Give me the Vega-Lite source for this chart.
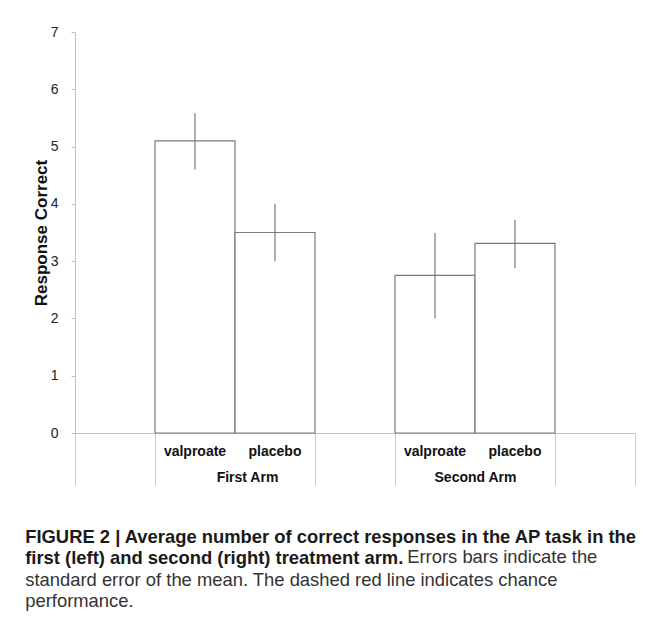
{
  "$schema": "https://vega.github.io/schema/vega-lite/v6.json",
  "background": "white",
  "padding": {"left": 25, "top": 25, "right": 0, "bottom": 0},
  "config": {
    "font": "Liberation Sans",
    "view": {"stroke": null},
    "concat": {"spacing": 0}
  },
  "title": {
    "text": ["standard error of the mean. The dashed red line indicates chance", "performance."],
    "orient": "bottom",
    "anchor": "start",
    "frame": "bounds",
    "font": "Liberation Sans",
    "fontSize": 18.4,
    "fontWeight": "normal",
    "color": "#333333",
    "lineHeight": 21.7,
    "offset": 3,
    "dx": 0
  },
  "vconcat": [
    {
      "title": {
        "text": "Errors bars indicate the",
        "orient": "bottom",
        "anchor": "start",
        "frame": "bounds",
        "font": "Liberation Sans",
        "fontSize": 18.4,
        "fontWeight": "normal",
        "color": "#333333",
        "offset": 0,
        "dx": 382,
        "dy": -20
      },
      "vconcat": [
        {
          "width": 560,
          "height": 401,
          "title": {
            "text": ["FIGURE 2 | Average number of correct responses in the AP task in the", "first (left) and second (right) treatment arm."],
            "orient": "bottom",
            "anchor": "start",
            "frame": "bounds",
            "font": "Liberation Sans",
            "fontSize": 18.4,
            "fontWeight": "bold",
            "color": "#1a1a1a",
            "lineHeight": 21.7,
            "offset": 42,
            "dx": -7
          },
          "layer": [
            {
              "data": {
                "values": [
                  {"slot": "valproate, First Arm", "arm": "First Arm", "drug": "valproate", "mean": 5.1, "lo": 4.6, "hi": 5.58},
                  {"slot": "placebo, First Arm", "arm": "First Arm", "drug": "placebo", "mean": 3.5, "lo": 3.0, "hi": 4.0},
                  {"slot": "valproate, Second Arm", "arm": "Second Arm", "drug": "valproate", "mean": 2.75, "lo": 2.0, "hi": 3.49},
                  {"slot": "placebo, Second Arm", "arm": "Second Arm", "drug": "placebo", "mean": 3.31, "lo": 2.88, "hi": 3.72}
                ]
              },
              "layer": [
                {
                  "mark": {"type": "bar", "fill": "white", "stroke": "#7a7a7a", "strokeWidth": 1.2},
                  "encoding": {
                    "x": {
                      "field": "slot",
                      "type": "nominal",
                      "sort": null,
                      "scale": {
                        "domain": ["left gap", "valproate, First Arm", "placebo, First Arm", "middle gap", "valproate, Second Arm", "placebo, Second Arm", "right gap"],
                        "paddingInner": 0,
                        "paddingOuter": 0
                      },
                      "axis": {
                        "orient": "bottom",
                        "title": null,
                        "ticks": false,
                        "labelAngle": 0,
                        "labelFont": "Liberation Sans",
                        "labelFontSize": 14,
                        "labelFontWeight": "bold",
                        "labelColor": "#111111",
                        "labelPadding": 11,
                        "domainColor": "#c0c0c0",
                        "domainWidth": 1,
                        "labelExpr": "indexof(datum.value, 'valproate') >= 0 ? 'valproate' : (indexof(datum.value, 'placebo') >= 0 ? 'placebo' : '')"
                      }
                    },
                    "y": {
                      "field": "mean",
                      "type": "quantitative",
                      "scale": {"domain": [0, 7], "nice": false},
                      "axis": {
                        "title": "Response Correct",
                        "values": [0, 1, 2, 3, 4, 5, 6, 7],
                        "format": "d",
                        "grid": false,
                        "domainColor": "#c0c0c0",
                        "tickColor": "#c0c0c0",
                        "tickSize": 4,
                        "labelFont": "Liberation Sans",
                        "labelFontSize": 14,
                        "labelPadding": 13,
                        "labelColor": "#222222",
                        "titleFont": "Liberation Sans",
                        "titleFontSize": 17,
                        "titleFontWeight": "bold",
                        "titleColor": "#111111",
                        "titlePadding": 0
                      }
                    }
                  }
                },
                {
                  "mark": {"type": "rule", "stroke": "#7a7a7a", "strokeWidth": 1.2},
                  "encoding": {
                    "x": {"field": "slot", "type": "nominal", "sort": null},
                    "y": {"field": "lo", "type": "quantitative", "title": "Response Correct"},
                    "y2": {"field": "hi"}
                  }
                }
              ]
            },
            {
              "mark": {"type": "rule", "stroke": "#ee3333", "strokeWidth": 1, "strokeDash": [3, 1]},
              "encoding": {
                "x": {
                  "datum": 0,
                  "type": "quantitative",
                  "scale": {"domain": [0, 7], "nice": false, "zero": false},
                  "axis": {
                    "orient": "bottom",
                    "title": null,
                    "values": [0, 1, 2.15, 3, 4, 5, 6, 7],
                    "domain": false,
                    "grid": false,
                    "tickSize": 52,
                    "tickColor": "#c8c8c8",
                    "tickOpacity": {"condition": {"test": "datum.value == 2.15 || datum.value == 5", "value": 0}, "value": 1},
                    "labelExpr": "datum.value == 2.15 ? 'First Arm' : (datum.value == 5 ? 'Second Arm' : '')",
                    "labelPadding": -15,
                    "labelFont": "Liberation Sans",
                    "labelFontSize": 14,
                    "labelFontWeight": "bold",
                    "labelColor": "#111111",
                    "labelFlush": false,
                    "labelOverlap": false
                  }
                },
                "x2": {"datum": 6.9},
                "y": {"datum": 3, "type": "quantitative"}
              }
            }
          ],
          "resolve": {"scale": {"x": "independent"}, "axis": {"x": "independent"}}
        }
      ]
    }
  ]
}
